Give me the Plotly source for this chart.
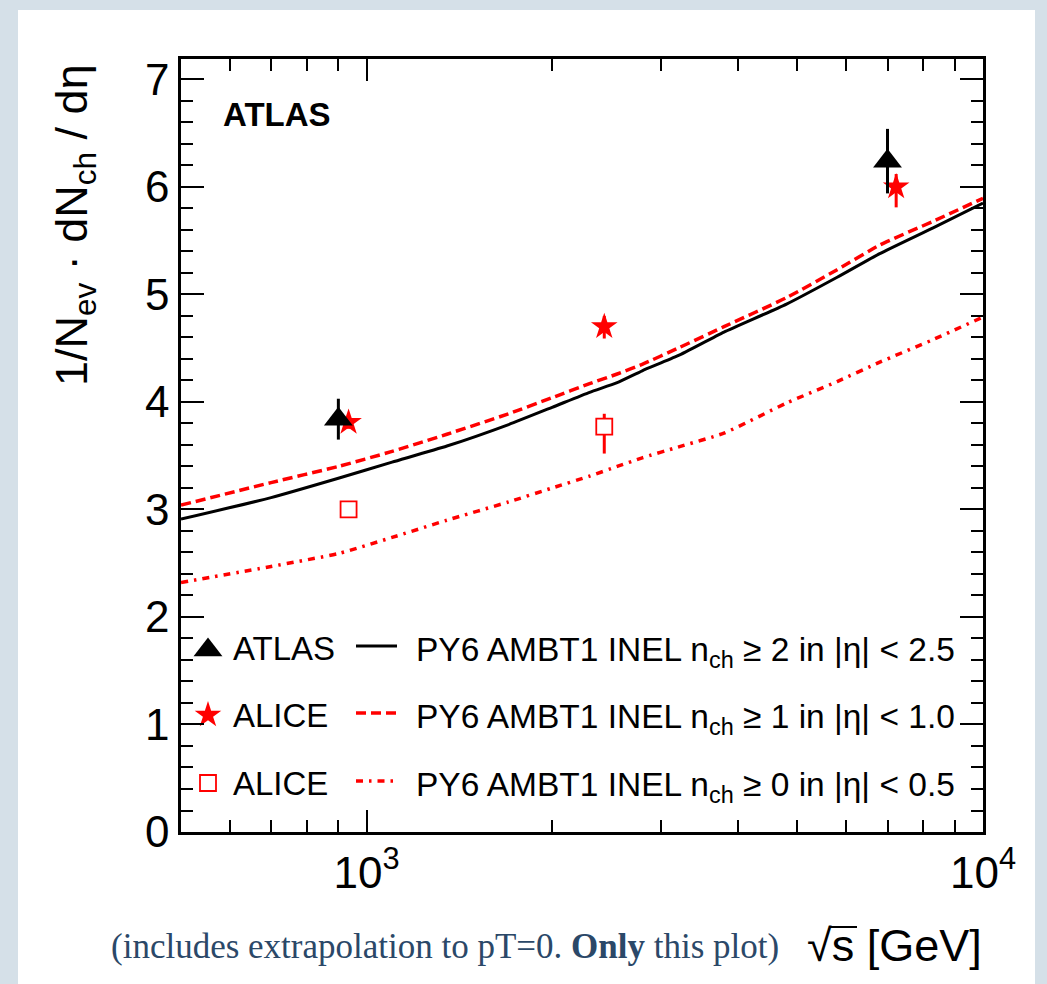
import math
import plotly.graph_objects as go

# ---- data -------------------------------------------------------------
# PYTHIA6 AMBT1 predictions vs sqrt(s) [GeV]
model_energy = [500, 700, 900, 1100, 1350, 1700, 2000, 2300, 2550, 2800,
                3200, 3800, 4800, 5800, 6800, 8300, 10000]
py6_nch2_eta25 = [2.91, 3.11, 3.29, 3.44, 3.59, 3.79, 3.95, 4.09, 4.18, 4.29,
                  4.43, 4.65, 4.91, 5.16, 5.38, 5.62, 5.85]
py6_nch1_eta10 = [3.04, 3.25, 3.40, 3.54, 3.70, 3.89, 4.04, 4.17, 4.26, 4.35,
                  4.50, 4.70, 4.97, 5.23, 5.46, 5.68, 5.895]
py6_nch0_eta05 = [2.32, 2.47, 2.59, 2.74, 2.90, 3.07, 3.20, 3.31, 3.40, 3.48,
                  3.58, 3.71, 3.99, 4.19, 4.37, 4.58, 4.79]

# ATLAS, nch >= 2, |eta| < 2.5 (extrapolated to pT = 0)
atlas_energy = [900, 7000]
atlas_val = [3.84, 6.24]
atlas_err = [0.19, 0.30]

# ALICE, INEL>0 |eta| < 1.0 (stars), drawn slightly offset in energy
alice_star_energy = [935, 2430, 7230]
alice_star_val = [3.81, 4.70, 6.00]
alice_star_up = [0.06, 0.10, 0.12]
alice_star_dn = [0.06, 0.11, 0.19]

# ALICE, INEL |eta| < 0.5 (open squares)
alice_sq_energy = [935, 2430]
alice_sq_val = [3.00, 3.77]
alice_sq_up = [0.04, 0.12]
alice_sq_dn = [0.04, 0.25]

x_ticks = [1000, 10000]
x_tick_text = ["10<sup>3</sup>", "10<sup>4</sup>"]
x_minor = [600, 700, 800, 900, 2000, 3000, 4000, 5000, 6000, 7000, 8000, 9000]

# ---- page geometry (pixels) --------------------------------------------
W, H = 1047, 984
L, R, T, B = 181, 983, 59, 832


def px(x):
    return (x - L) / (R - L)


def py(y):
    return (B - y) / (B - T)


RED = "#ff0000"
FONT = "Liberation Sans, Arial, Helvetica, sans-serif"
DASH = "10px,5px"
DASHDOT = "7px,6px,2.5px,6px"

fig = go.Figure()

# model curves
fig.add_trace(go.Scatter(x=model_energy, y=py6_nch2_eta25, mode="lines",
                         line=dict(color="black", width=3, shape="spline", smoothing=0.5),
                         hoverinfo="skip"))
fig.add_trace(go.Scatter(x=model_energy, y=py6_nch1_eta10, mode="lines",
                         line=dict(color=RED, width=3.5, dash=DASH,
                                   shape="spline", smoothing=0.5),
                         hoverinfo="skip"))
fig.add_trace(go.Scatter(x=model_energy, y=py6_nch0_eta05, mode="lines",
                         line=dict(color=RED, width=3.5, dash=DASHDOT,
                                   shape="spline", smoothing=0.5),
                         hoverinfo="skip"))

# measurements
fig.add_trace(go.Scatter(x=alice_sq_energy, y=alice_sq_val, mode="markers",
                         marker=dict(symbol="square", size=16, color="white",
                                     line=dict(color=RED, width=1.8)),
                         error_y=dict(type="data", array=alice_sq_up, arrayminus=alice_sq_dn,
                                      color=RED, thickness=3, width=0)))
fig.add_trace(go.Scatter(x=alice_star_energy, y=alice_star_val, mode="markers",
                         marker=dict(symbol="star", size=20, color=RED, line=dict(width=0)),
                         error_y=dict(type="data", array=alice_star_up,
                                      arrayminus=alice_star_dn,
                                      color=RED, thickness=3, width=0)))
fig.add_trace(go.Scatter(x=atlas_energy, y=atlas_val, mode="markers",
                         marker=dict(symbol="triangle-up", size=25, color="black"),
                         error_y=dict(type="data", array=atlas_err,
                                      color="black", thickness=3, width=0)))

# legend, drawn on an overlay axis spanning the frame in [0, 1]
leg_rows = [648, 715, 783]
leg_marker_x = px(208)
fig.add_trace(go.Scatter(x=[leg_marker_x], y=[py(leg_rows[0] + 2)], xaxis="x2", yaxis="y2",
                         mode="markers", marker=dict(symbol="triangle-up", size=25, color="black")))
fig.add_trace(go.Scatter(x=[leg_marker_x], y=[py(leg_rows[1])], xaxis="x2", yaxis="y2",
                         mode="markers", marker=dict(symbol="star", size=20, color=RED)))
fig.add_trace(go.Scatter(x=[leg_marker_x], y=[py(leg_rows[2])], xaxis="x2", yaxis="y2",
                         mode="markers", marker=dict(symbol="square", size=16, color="white",
                                                     line=dict(color=RED, width=1.8))))
line_styles = [dict(color="black", width=3),
               dict(color=RED, width=3.5, dash=DASH),
               dict(color=RED, width=3.5, dash=DASHDOT)]
for row, style in zip(leg_rows, line_styles):
    fig.add_trace(go.Scatter(x=[px(356), px(397)], y=[py(row - 2)] * 2, xaxis="x2", yaxis="y2",
                             mode="lines", line=style))

leg_data_text = ["ATLAS", "ALICE", "ALICE"]
leg_model_text = [
    "PY6 AMBT1 INEL n<sub>ch</sub> ≥ 2 in |η| < 2.5",
    "PY6 AMBT1 INEL n<sub>ch</sub> ≥ 1 in |η| < 1.0",
    "PY6 AMBT1 INEL n<sub>ch</sub> ≥ 0 in |η| < 0.5",
]

annotations = []
for row, txt in zip(leg_rows, leg_data_text):
    annotations.append(dict(x=px(231), y=py(row), xref="paper", yref="paper", text=txt,
                            showarrow=False, xanchor="left", yanchor="middle",
                            font=dict(family=FONT, size=33, color="black")))
for row, txt in zip(leg_rows, leg_model_text):
    annotations.append(dict(x=px(414), y=py(row + 4), xref="paper", yref="paper", text=txt,
                            showarrow=False, xanchor="left", yanchor="middle",
                            font=dict(family=FONT, size=33.5, color="black")))

annotations += [
    dict(x=px(221), y=py(115), xref="paper", yref="paper", text="<b>ATLAS</b>",
         showarrow=False, xanchor="left", yanchor="middle",
         font=dict(family=FONT, size=33, color="black")),
    dict(x=px(75), y=py(225), xref="paper", yref="paper",
         text="1/N<sub>ev</sub> · dN<sub>ch</sub> / dη", textangle=-90,
         showarrow=False, xanchor="center", yanchor="middle",
         font=dict(family=FONT, size=45, color="black")),
    dict(x=px(984), y=py(945), xref="paper", yref="paper", text="√s [GeV]",
         showarrow=False, xanchor="right", yanchor="middle",
         font=dict(family=FONT, size=45, color="black")),
    dict(x=px(781), y=py(946), xref="paper", yref="paper",
         text="(includes extrapolation to pT=0. <b>Only</b> this plot)",
         showarrow=False, xanchor="right", yanchor="middle",
         font=dict(family="Liberation Serif, DejaVu Serif, serif", size=35, color="#2b4868")),
]

shapes = [
    # white page panel on the light backdrop
    dict(type="rect", xref="paper", yref="paper", layer="below",
         x0=px(18), x1=px(1035), y0=py(H + 5), y1=py(10),
         fillcolor="white", line=dict(width=0)),
    # vinculum of the square-root sign in the axis title
    dict(type="line", xref="paper", yref="paper", layer="above",
         x0=px(829), x1=px(857), y0=py(927), y1=py(927),
         line=dict(color="black", width=2)),
]

axis_common = dict(showline=True, linecolor="black", linewidth=2.5, mirror="allticks",
                   ticks="inside", tickcolor="black", tickwidth=2, showgrid=False,
                   zeroline=False, tickfont=dict(family=FONT, size=44, color="black"))

fig.update_layout(
    width=W, height=H,
    margin=dict(l=L, r=W - R, t=T, b=H - B, pad=0),
    paper_bgcolor="#d5e0e8",
    plot_bgcolor="white",
    showlegend=False,
    xaxis=dict(type="log", range=[math.log10(500), 4], tickmode="array",
               tickvals=x_ticks, ticktext=x_tick_text, ticklen=22,
               minor=dict(tickmode="array", tickvals=x_minor, ticklen=12,
                          ticks="inside", tickcolor="black", tickwidth=2, showgrid=False),
               **axis_common),
    yaxis=dict(range=[0, 7.19], tickmode="linear", tick0=0, dtick=1, ticklen=23,
               minor=dict(dtick=0.2, ticklen=12, ticks="inside",
                          tickcolor="black", tickwidth=2, showgrid=False),
               **axis_common),
    xaxis2=dict(overlaying="x", range=[0, 1], visible=False),
    yaxis2=dict(overlaying="y", range=[0, 1], visible=False),
    annotations=annotations,
    shapes=shapes,
)

fig.write_html("out.html")
